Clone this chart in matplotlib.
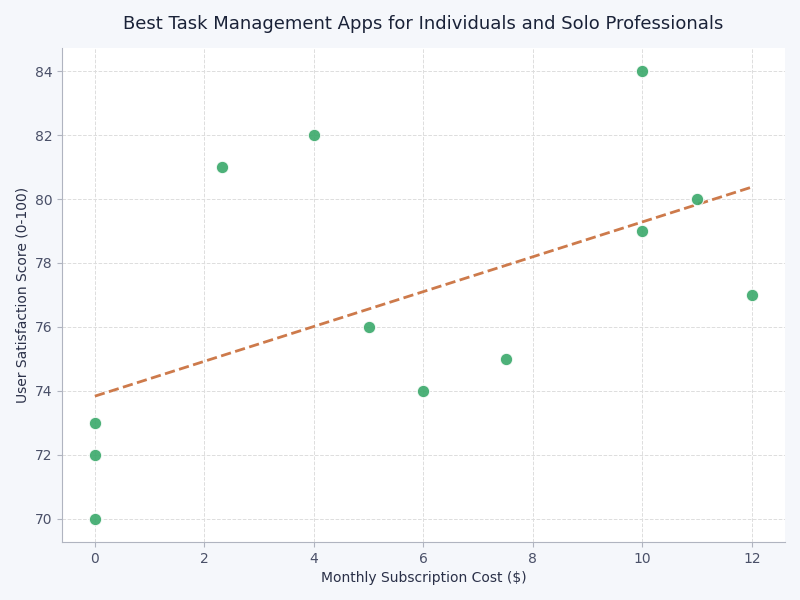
import matplotlib.pyplot as plt
import numpy as np

cost = [0, 0, 0, 2.33, 4, 5, 6, 7.5, 10, 10, 11, 12]
score = [73, 72, 70, 81, 82, 76, 74, 75, 84, 79, 80, 77]

x = np.array(cost)
y = np.array(score)
slope, intercept = np.polyfit(x, y, 1)
xs = np.array([x.min(), x.max()])

fig = plt.figure(figsize=(8, 6), dpi=100, facecolor='#f5f7fb')
ax = fig.add_axes([0.0775, 0.0967, 0.9035, 0.8233])
ax.set_facecolor('white')

ax.grid(True, color='#dddddd', linestyle='--', linewidth=0.7)
ax.set_axisbelow(True)

ax.scatter(x, y, s=80, color='#3aa96a', alpha=0.9, edgecolors='white', linewidths=0.8, zorder=3)
ax.plot(xs, slope * xs + intercept, color='#cd7a4b', linestyle='--', linewidth=2, zorder=2)

ax.set_xlim(-0.6, 12.6)
ax.set_ylim(69.28, 84.72)
ax.set_xticks([0, 2, 4, 6, 8, 10, 12])
ax.set_yticks([70, 72, 74, 76, 78, 80, 82, 84])

for s in ['top', 'right']:
    ax.spines[s].set_visible(False)
for s in ['left', 'bottom']:
    ax.spines[s].set_color('#b0b4c0')
ax.tick_params(colors='#b0b4c0', labelcolor='#4a5068', labelsize=10)

ax.set_title('Best Task Management Apps for Individuals and Solo Professionals',
             fontsize=13, color='#1a2238', pad=14)
ax.set_xlabel('Monthly Subscription Cost ($)', fontsize=10, color='#2a3048')
ax.set_ylabel('User Satisfaction Score (0-100)', fontsize=10, color='#2a3048')

fig.savefig('out.png', dpi=100, facecolor=fig.get_facecolor())
